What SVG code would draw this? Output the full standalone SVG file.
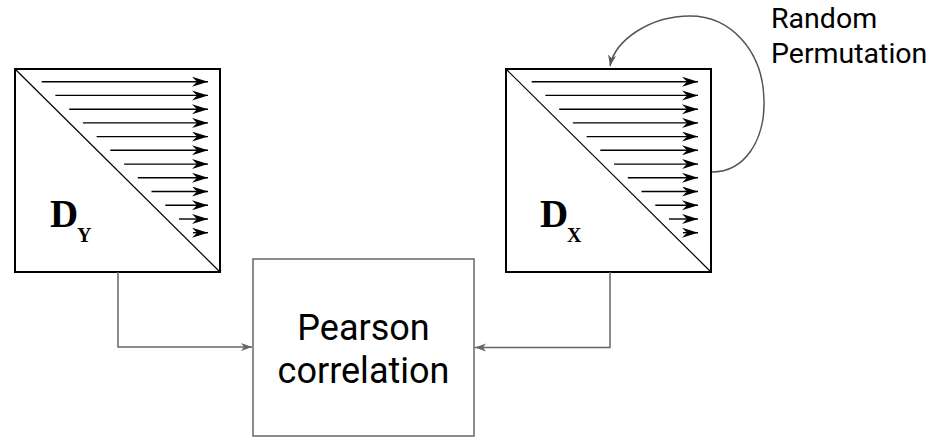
<svg xmlns="http://www.w3.org/2000/svg" width="934" height="437" viewBox="0 0 934 437">
<defs>
<marker id="mh" markerUnits="userSpaceOnUse" markerWidth="18" markerHeight="12" refX="16" refY="5" orient="auto" viewBox="0 0 18 12">
<path d="M0,0 L16,5 L0,10 L5,5 z" fill="#000"/>
</marker>
<marker id="ch" markerUnits="userSpaceOnUse" markerWidth="12" markerHeight="10" refX="11" refY="4" orient="auto" viewBox="0 0 12 10">
<path d="M0,0 L11,4 L0,8 L3,4 z" fill="#666"/>
</marker>
<marker id="rh" markerUnits="userSpaceOnUse" markerWidth="12" markerHeight="10" refX="11" refY="4" orient="auto" viewBox="0 0 12 10">
<path d="M0,0 L11,4 L0,8 L3,4 z" fill="#555"/>
</marker>
</defs>
<style>
.mbox{fill:#fff;stroke:#000;stroke-width:2}
.diag{stroke:#000;stroke-width:1.2}
.ra{stroke:#000;stroke-width:1.4;marker-end:url(#mh)}
.dlab{font-family:"Liberation Serif",serif;font-weight:bold;fill:#000}
.conn{fill:none;stroke:#666;stroke-width:1.5;marker-end:url(#ch)}
.pbox{fill:#fff;stroke:#666;stroke-width:1.5}
.sans{font-family:Roboto,"Liberation Sans",sans-serif;fill:#000}
</style>
<g id="DY">
<rect class="mbox" x="15" y="69" width="205" height="203"/>
<line class="diag" x1="15" y1="69" x2="220" y2="272"/>
<line class="ra" x1="41.7" y1="81.7" x2="208" y2="81.7"/>
<line class="ra" x1="55.4" y1="95.4" x2="208" y2="95.4"/>
<line class="ra" x1="69.2" y1="109.2" x2="208" y2="109.2"/>
<line class="ra" x1="82.9" y1="122.9" x2="208" y2="122.9"/>
<line class="ra" x1="96.6" y1="136.6" x2="208" y2="136.6"/>
<line class="ra" x1="110.3" y1="150.3" x2="208" y2="150.3"/>
<line class="ra" x1="124.1" y1="164.1" x2="208" y2="164.1"/>
<line class="ra" x1="137.8" y1="177.8" x2="208" y2="177.8"/>
<line class="ra" x1="151.5" y1="191.5" x2="208" y2="191.5"/>
<line class="ra" x1="165.3" y1="205.3" x2="208" y2="205.3"/>
<line class="ra" x1="179" y1="219" x2="208" y2="219"/>
<line class="ra" x1="193" y1="232.7" x2="208" y2="232.7"/>
<text class="dlab" x="50" y="227" font-size="39">D</text>
<text class="dlab" x="77" y="242" font-size="20">Y</text>
</g>
<g id="DX">
<rect class="mbox" x="506" y="69" width="205" height="203"/>
<line class="diag" x1="506" y1="69" x2="711" y2="272"/>
<line class="ra" x1="531.7" y1="81.7" x2="698" y2="81.7"/>
<line class="ra" x1="545.4" y1="95.4" x2="698" y2="95.4"/>
<line class="ra" x1="559.2" y1="109.2" x2="698" y2="109.2"/>
<line class="ra" x1="572.9" y1="122.9" x2="698" y2="122.9"/>
<line class="ra" x1="586.6" y1="136.6" x2="698" y2="136.6"/>
<line class="ra" x1="600.3" y1="150.3" x2="698" y2="150.3"/>
<line class="ra" x1="614.1" y1="164.1" x2="698" y2="164.1"/>
<line class="ra" x1="627.8" y1="177.8" x2="698" y2="177.8"/>
<line class="ra" x1="641.5" y1="191.5" x2="698" y2="191.5"/>
<line class="ra" x1="655.3" y1="205.3" x2="698" y2="205.3"/>
<line class="ra" x1="669" y1="219" x2="698" y2="219"/>
<line class="ra" x1="683" y1="232.7" x2="698" y2="232.7"/>
<text class="dlab" x="540" y="227" font-size="39">D</text>
<text class="dlab" x="567" y="242" font-size="20">X</text>
</g>
<g id="pearson">
<rect class="pbox" x="253" y="259" width="221" height="177"/>
<text class="sans" x="363.5" y="340" font-size="36" text-anchor="middle">Pearson</text>
<text class="sans" x="363.5" y="383" font-size="36" text-anchor="middle">correlation</text>
</g>
<g id="perm-label">
<text class="sans" x="771" y="28" font-size="28.5">Random</text>
<text class="sans" x="771" y="63" font-size="28.5">Permutation</text>
</g>
<g id="connectors">
<path class="conn" d="M118,272 V347 H252"/>
<path class="conn" d="M610,272 V347.5 H475"/>
<path fill="none" stroke="#555" stroke-width="1.5" marker-end="url(#rh)" d="M712,172 C745,172 765,140 764,100 C763,50 730,16 690,16 C650,16 615,40 610,66"/>
</g>
</svg>
